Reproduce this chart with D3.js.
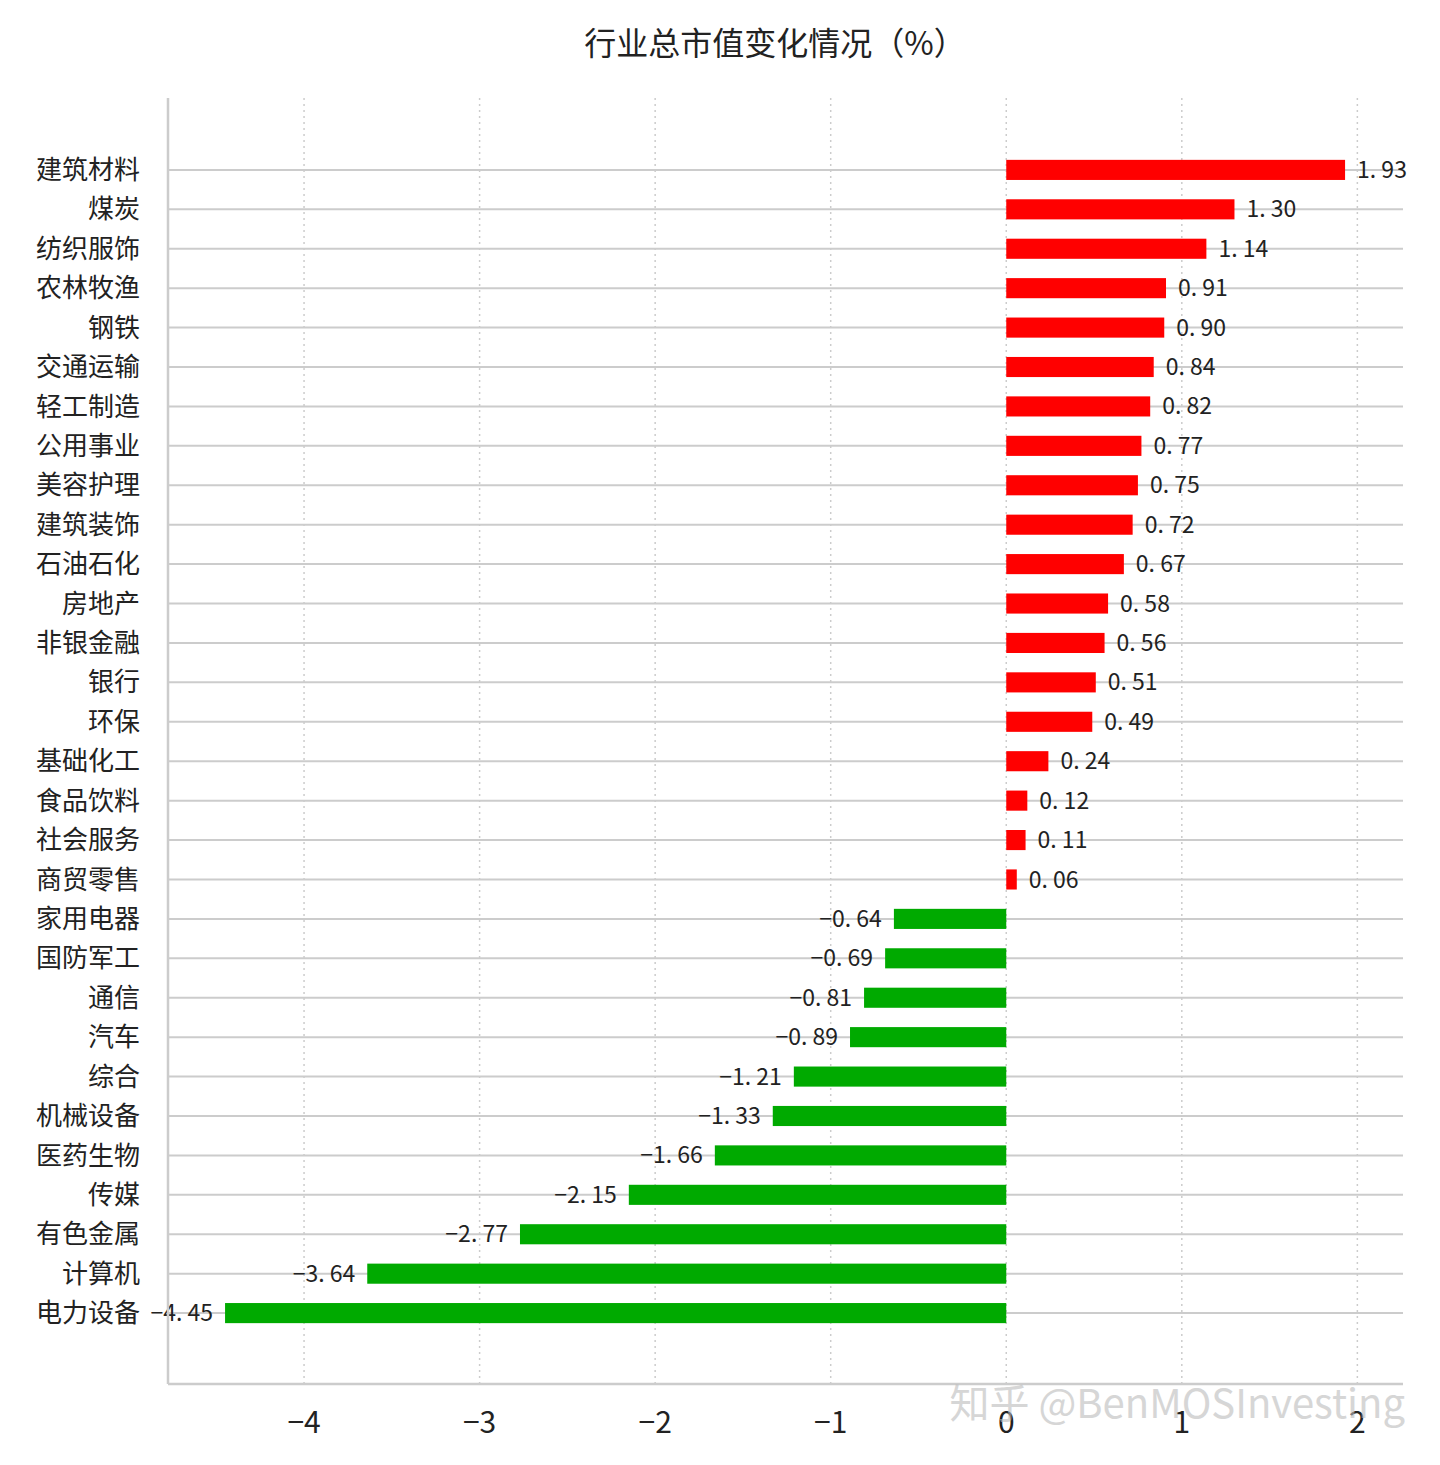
<!DOCTYPE html>
<html lang="zh">
<head>
<meta charset="UTF-8">
<script src="https://d3js.org/d3.v7.min.js"></script>
<style>
  body { margin: 0; background: #fff; }
  text { font-family: "Noto Sans CJK SC", sans-serif; }
</style>
</head>
<body>
<svg id="chart" width="1440" height="1465"></svg>
<script>
  const categories = ["建筑材料","煤炭","纺织服饰","农林牧渔","钢铁","交通运输","轻工制造","公用事业","美容护理","建筑装饰","石油石化","房地产","非银金融","银行","环保","基础化工","食品饮料","社会服务","商贸零售","家用电器","国防军工","通信","汽车","综合","机械设备","医药生物","传媒","有色金属","计算机","电力设备"];
  const values = [1.93,1.30,1.14,0.91,0.90,0.84,0.82,0.77,0.75,0.72,0.67,0.58,0.56,0.51,0.49,0.24,0.12,0.11,0.06,-0.64,-0.69,-0.81,-0.89,-1.21,-1.33,-1.66,-2.15,-2.77,-3.64,-4.45];
  const xTicks = [-4,-3,-2,-1,0,1,2];

  const svg = d3.select("#chart");
  const mLeft = 168, mRight = 1403, mTop = 98, mBottom = 1384;

  const x = d3.scaleLinear().domain([-4.775, 2.26]).range([mLeft, mRight]);
  const y = d3.scaleBand().domain(categories).range([150, 1333]).paddingInner(0.49).paddingOuter(0.25);

  svg.append("text").attr("x", 775).attr("y", 55).attr("text-anchor", "middle")
    .attr("font-size", 32).attr("fill", "#222").text("行业总市值变化情况（%）");

  // vertical dotted grid
  svg.append("g").selectAll("line").data(xTicks).join("line")
    .attr("x1", d => x(d)).attr("x2", d => x(d)).attr("y1", mTop).attr("y2", mBottom)
    .attr("stroke", "#ccc").attr("stroke-dasharray", "2,4").attr("stroke-width", 1.5);

  // horizontal grid
  svg.append("g").selectAll("line").data(categories).join("line")
    .attr("x1", mLeft).attr("x2", mRight)
    .attr("y1", d => y(d) + y.bandwidth() / 2).attr("y2", d => y(d) + y.bandwidth() / 2)
    .attr("stroke", "#ccc").attr("stroke-width", 2);

  // bars
  svg.append("g").selectAll("rect").data(values).join("rect")
    .attr("x", d => x(Math.min(0, d)))
    .attr("width", d => Math.abs(x(d) - x(0)))
    .attr("y", (d, i) => y(categories[i]))
    .attr("height", y.bandwidth())
    .attr("fill", d => d >= 0 ? "#ff0000" : "#00aa00");

  // value labels
  svg.append("g").selectAll("text").data(values).join("text")
    .attr("x", d => d >= 0 ? x(d) + 12 : x(d) - 12)
    .attr("y", (d, i) => y(categories[i]) + y.bandwidth() / 2)
    .attr("dy", "0.35em")
    .attr("text-anchor", d => d >= 0 ? "start" : "end")
    .attr("font-size", 23).attr("fill", "#222")
    .text(d => d.toFixed(2).replace(".", ". ").replace("-", "−"));

  // category labels
  svg.append("g").selectAll("text").data(categories).join("text")
    .attr("x", 140).attr("y", d => y(d) + y.bandwidth() / 2).attr("dy", "0.35em")
    .attr("text-anchor", "end").attr("font-size", 26).attr("fill", "#222").text(d => d);

  // spines
  svg.append("line").attr("x1", mLeft).attr("x2", mLeft).attr("y1", mTop).attr("y2", mBottom)
    .attr("stroke", "#ccc").attr("stroke-width", 2.5);
  svg.append("line").attr("x1", mLeft).attr("x2", mRight).attr("y1", mBottom).attr("y2", mBottom)
    .attr("stroke", "#ccc").attr("stroke-width", 2.5);

  // x tick labels
  svg.append("g").selectAll("text").data(xTicks).join("text")
    .attr("x", d => x(d)).attr("y", 1433).attr("text-anchor", "middle")
    .attr("font-size", 30).attr("fill", "#222")
    .text(d => d < 0 ? "−" + Math.abs(d) : d);

  // watermark
  svg.append("text").attr("x", 1405).attr("y", 1418).attr("text-anchor", "end")
    .attr("font-size", 40).attr("fill", "#bbb").attr("opacity", 0.6)
    .text("知乎 @BenMOSInvesting");
</script>
</body>
</html>
